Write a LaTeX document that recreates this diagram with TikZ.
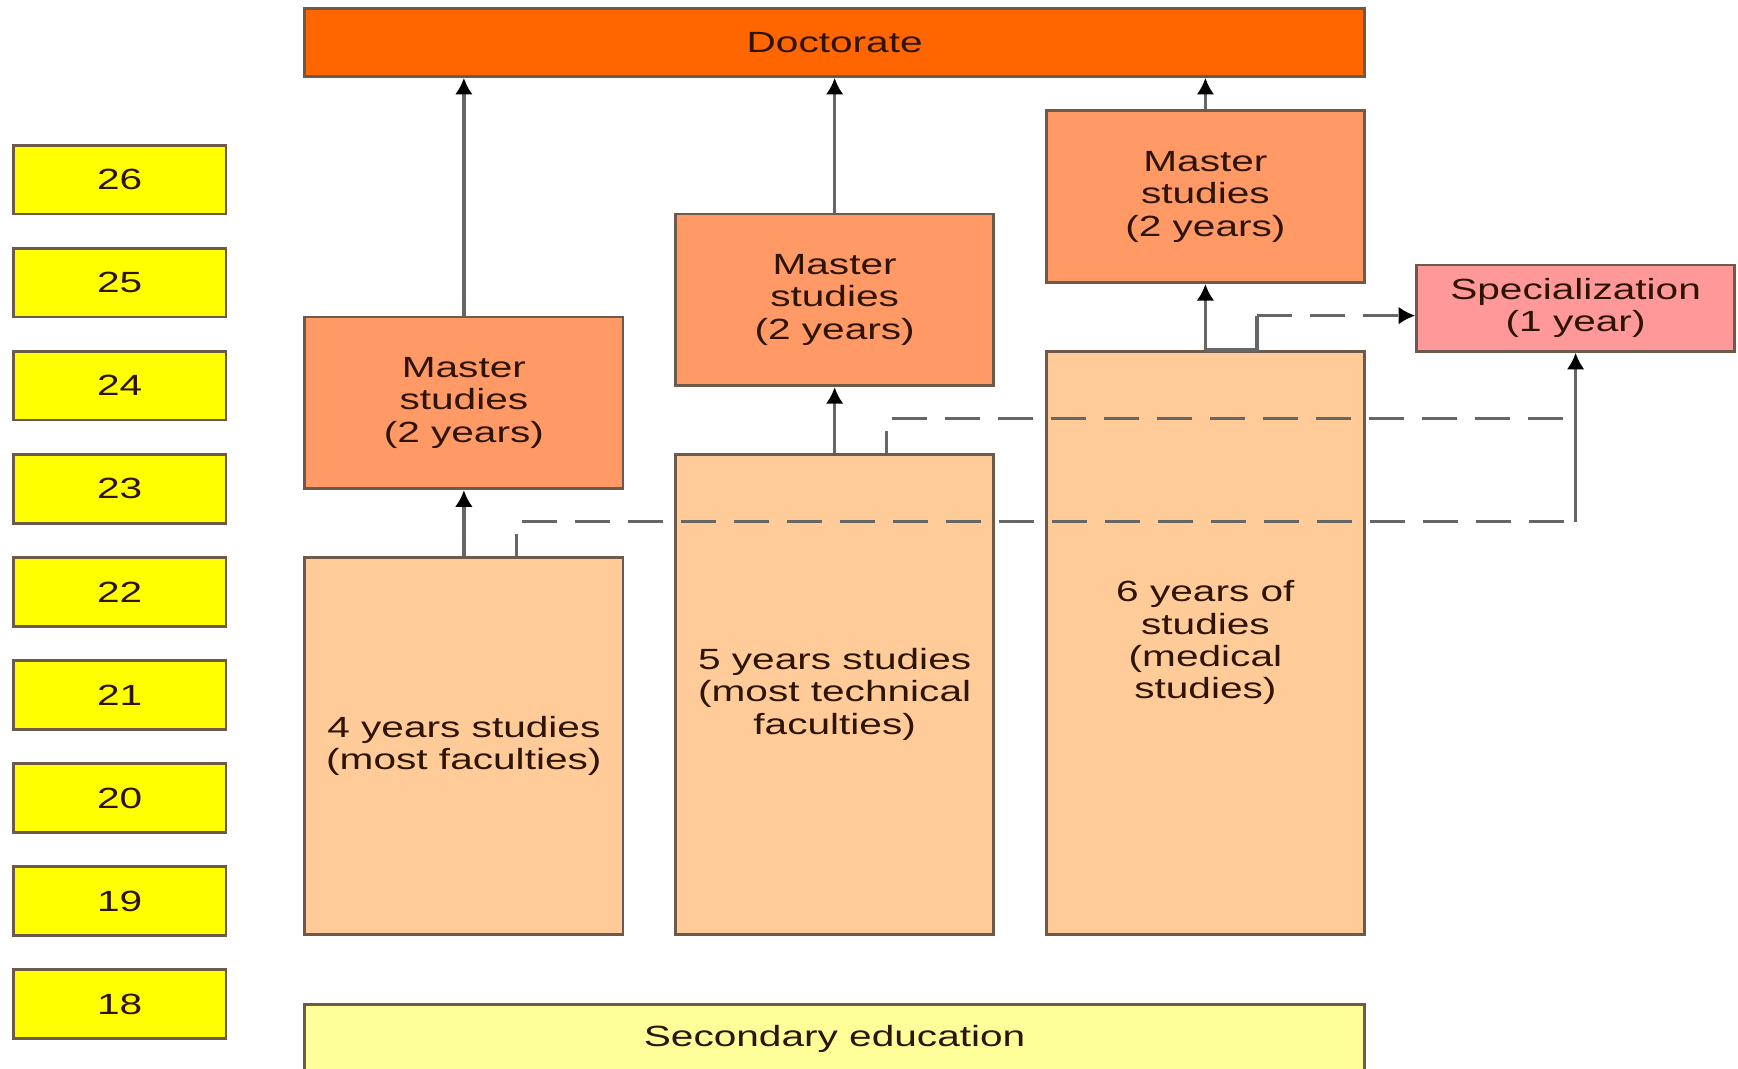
\documentclass[tikz,border=0pt]{standalone}
\usepackage{fontspec}
\setmainfont{Liberation Sans}[FakeStretch=1.39]
\usetikzlibrary{arrows.meta, calc}

\definecolor{doccolor}{HTML}{FF6600}
\definecolor{mastercolor}{HTML}{FF9966}
\definecolor{basecolor}{HTML}{FFCC99}
\definecolor{speccolor}{HTML}{FF9999}
\definecolor{seccolor}{HTML}{FFFF99}
\definecolor{agecolor}{HTML}{FFFF00}
\definecolor{edgecolor}{HTML}{6E5A4A}
\definecolor{linkcolor}{HTML}{666666}
\definecolor{txtcolor}{HTML}{2E1405}

\begin{document}
\begin{tikzpicture}[x = 0.1mm, y = 0.1mm]
			\useasboundingbox (0, 0) rectangle (1568, 964);

			% Box and line styles
			\tikzset{box/.style = {draw = edgecolor, line width = 0.7pt, inner sep = 0pt, align = center, text = txtcolor,
					font = \fontsize{7.5}{8.3}\selectfont, minimum width = 2.87cm}}
			\tikzset{agebox/.style = {box, fill = agecolor, minimum width = 1.92cm, minimum height = 0.62cm}}
			\tikzset{tip/.style = {-{Latex[length = 1.5mm, width = 1.6mm, color = black]}}}
			\tikzset{link/.style = {draw = linkcolor, line width = 0.85pt, tip}}
			\tikzset{plain/.style = {draw = linkcolor, line width = 0.85pt}}
			\tikzset{dashline/.style = {draw = linkcolor, line width = 0.7pt, dash pattern = on 9pt off 4.6pt}}

			% Draw the age column
			\foreach \age [count = \i from 0] in {18, ..., 26}
				\node[agebox] (a\age) at (108, 58 + 93*\i) {\age};

			% Draw the top and bottom levels
			\node[box, fill = doccolor, minimum width = 9.56cm, minimum height = 0.61cm] (doc) at (753, 925.5) {Doctorate};
			\node[box, fill = seccolor, minimum width = 9.56cm, minimum height = 0.62cm] (sec) at (753, 27) {Secondary education};

			% Draw the three study paths
			\node[box, fill = basecolor, minimum height = 3.4cm] (b1) at (418.5, 291) {4 years studies\\(most faculties)};
			\node[box, fill = mastercolor, minimum height = 1.55cm] (m1) at (418.5, 600.5) {Master\\studies\\(2 years)};
			\node[box, fill = basecolor, minimum height = 4.33cm] (b2) at (753, 337.5) {5 years studies\\(most technical\\faculties)};
			\node[box, fill = mastercolor, minimum height = 1.55cm] (m2) at (753, 693.5) {Master\\studies\\(2 years)};
			\node[box, fill = basecolor, minimum height = 5.26cm] (b3) at (1087.5, 384) {6 years of\\studies\\(medical\\studies)};
			\node[box, fill = mastercolor, minimum height = 1.55cm] (m3) at (1087.5, 786.5) {Master\\studies\\(2 years)};
			\node[box, fill = speccolor, minimum height = 0.78cm] (spec) at (1421.5, 686) {Specialization\\(1 year)};

			% Draw the arrows up to master and doctorate
			\draw[link] (b1) -- (m1);
			\draw[link] (m1) -- (m1 |- doc.south);
			\draw[link] (b2) -- (m2);
			\draw[link] (m2) -- (m2 |- doc.south);
			\draw[link] (b3) -- (m3);
			\draw[link] (m3) -- (m3 |- doc.south);

			% Define the coordinates of the branches to specialization
			\coordinate (s1) at ($(b1.north) + (47.5, 0)$);
			\coordinate (t1) at ($(s1) + (0, 31)$);
			\coordinate (c1) at (t1 -| spec.south);
			\coordinate (s2) at ($(b2.north) + (47, 0)$);
			\coordinate (t2) at ($(s2) + (0, 31)$);
			\coordinate (s3) at ($(b3.north) + (46.5, 0)$);
			\coordinate (t3) at ($(s3) + (0, 31)$);

			% Draw the dashed branches
			\draw[dashline, dash phase = 3.4pt] (s1) -- (t1) -- (c1);
			\draw[link] (c1) -- (spec.south);
			\draw[dashline, dash phase = 3.4pt] (s2) -- (t2) -- (t2 -| spec.south);
			\draw[plain] (b3.north) -- (s3) -- (t3);
			\draw[dashline, tip] (t3) -- (t3 -| spec.west);

		\end{tikzpicture}
\end{document}
